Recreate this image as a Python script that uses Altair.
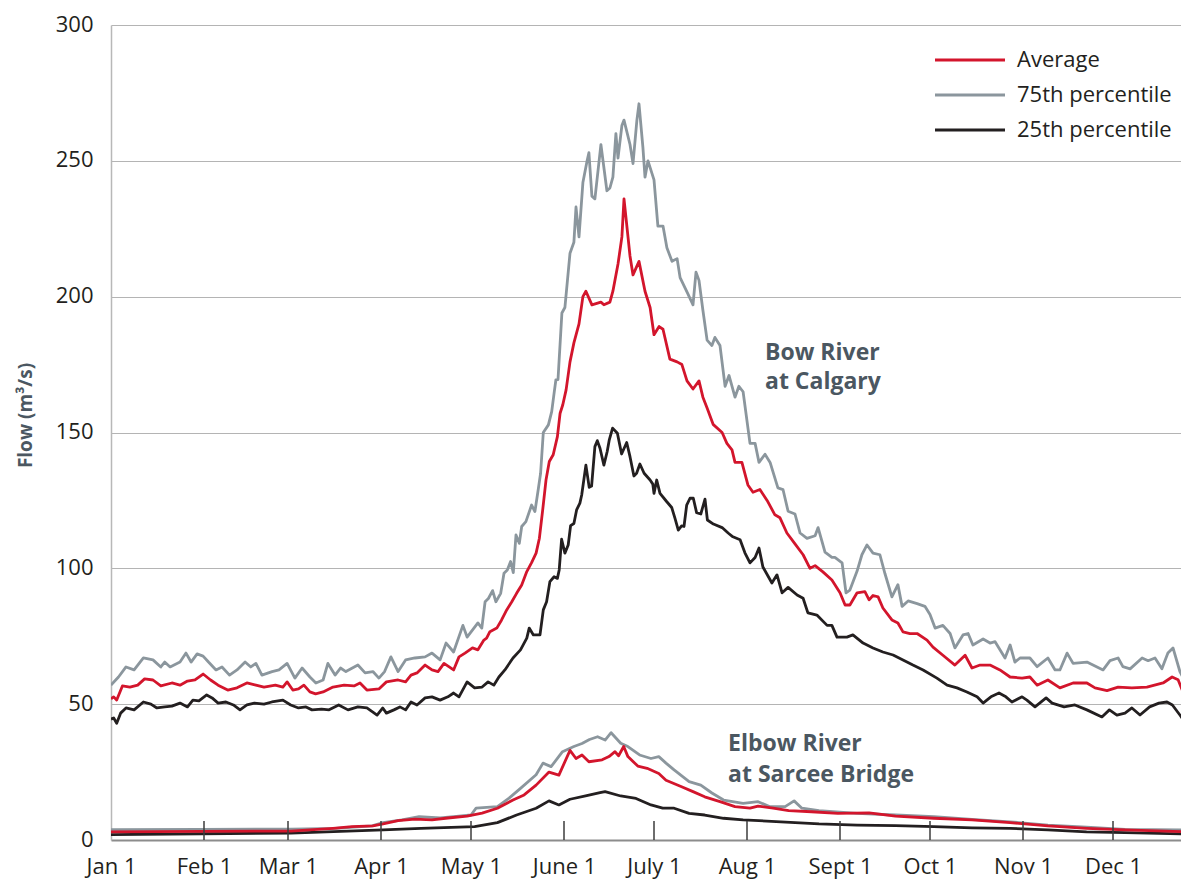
import json
import altair as alt
import pandas as pd

# ---- axis values / labels ----
month_days = [0, 31, 59, 90, 120, 151, 181, 212, 243, 273, 304, 334]
month_labels = ["Jan 1", "Feb 1", "Mar 1", "Apr 1", "May 1", "June 1",
                "July 1", "Aug 1", "Sept 1", "Oct 1", "Nov 1", "Dec 1"]
flow_ticks = [0, 50, 100, 150, 200, 250, 300]

series_names = ["Average", "75th percentile", "25th percentile"]
series_colors = ["#d3152c", "#8b969d", "#231f20"]

# ---- Bow River at Calgary: [day of year, flow m3/s] ----
bow_p75 = [[0, 57.0], [2.5, 60.0], [5.0, 63.7], [7.7, 62.6], [10.8, 67.0], [14.0, 66.3], [16.6, 63.7],
           [17.9, 65.5], [19.7, 63.7], [23.0, 65.5], [25.0, 68.8], [26.7, 65.5], [28.7, 68.5], [30.7, 67.7],
           [32.5, 65.5], [35.0, 62.6], [37.0, 63.7], [39.5, 60.7], [42.0, 62.6], [44.7, 65.5], [46.6, 63.7],
           [48.3, 65.0], [50.3, 60.7], [53.7, 62.0], [56.0, 62.6], [58.7, 65.0], [61.3, 59.6], [63.7, 63.3],
           [66.3, 60.0], [68.3, 57.8], [70.7, 58.9], [72.3, 65.0], [74.7, 60.7], [76.5, 63.3], [78.3, 62.0],
           [82.3, 64.4], [84.7, 61.5], [87.3, 62.0], [89.3, 59.6], [91.2, 62.0], [93.3, 67.4], [95.7, 62.0],
           [98.2, 66.3], [101.3, 67.0], [104.7, 67.4], [107.0, 68.8], [109.7, 66.3], [111.7, 72.5],
           [114.2, 69.2], [117.3, 79.0], [118.7, 74.7], [122.3, 79.9], [123.6, 78.0], [124.7, 87.7],
           [125.8, 88.9], [127.2, 91.8], [128.3, 87.7], [129.9, 90.8], [131.0, 98.2], [132.1, 99.4],
           [133.2, 102.5], [134.1, 98.4], [135.0, 112.3], [136.1, 109.2], [136.9, 115.4], [138.3, 117.2],
           [140.2, 123.3], [141.3, 120.9], [142.4, 128.9], [143.2, 135.0], [144.1, 150.0], [145.8, 152.8],
           [146.9, 157.7], [147.7, 164.5], [148.3, 169.4], [149.0, 169.5], [150.3, 194.0], [151.3, 196.0],
           [153.0, 216.0], [154.3, 220.0], [155.0, 233.0], [156.0, 222.0], [157.3, 242.0], [158.7, 250.0],
           [159.3, 253.0], [160.3, 237.0], [161.3, 236.0], [163.3, 256.0], [165.3, 239.0], [166.3, 240.0],
           [167.3, 244.0], [168.3, 260.0], [169.0, 251.0], [170.3, 263.0], [171.0, 265.0], [173.0, 256.0],
           [174.0, 249.0], [175.3, 265.0], [176.0, 271.0], [177.3, 255.0], [178.0, 244.0], [179.0, 250.0],
           [181.0, 243.0], [182.3, 226.0], [184.0, 226.0], [185.3, 218.0], [187.0, 213.0], [188.7, 214.0],
           [189.7, 207.0], [192.3, 201.0], [194.0, 197.0], [195.0, 209.0], [196.0, 206.0], [197.3, 195.0],
           [198.7, 184.0], [200.3, 182.0], [201.3, 185.0], [203.0, 182.0], [204.7, 167.0], [206.0, 171.0],
           [208.0, 163.0], [209.3, 167.0], [210.7, 165.0], [213.0, 146.0], [214.7, 146.0], [216.0, 139.0],
           [218.0, 142.0], [219.7, 139.0], [222.3, 129.6], [224.0, 129.0], [225.7, 121.0], [228.0, 120.0],
           [229.7, 113.0], [232.0, 111.0], [234.7, 112.0], [235.7, 115.0], [238.0, 106.0], [240.3, 104.0],
           [241.3, 104.0], [243.7, 102.0], [245.0, 91.0], [246.3, 92.0], [248.7, 99.0], [250.3, 105.0],
           [252.0, 108.6], [254.0, 105.6], [256.3, 105.0], [258.0, 98.0], [260.3, 89.5], [262.3, 94.0],
           [263.7, 86.0], [265.7, 88.0], [268.7, 87.0], [271.3, 86.0], [273.0, 83.0], [274.7, 78.0],
           [277.3, 79.0], [279.7, 76.0], [281.3, 70.7], [284.0, 75.5], [285.7, 76.0], [287.3, 71.8],
           [290.7, 74.0], [293.0, 72.5], [294.7, 73.0], [298.0, 67.0], [299.7, 71.8], [301.3, 65.5],
           [303.0, 67.0], [306.3, 67.0], [308.7, 63.8], [312.3, 67.0], [314.7, 62.6], [316.3, 62.6],
           [318.7, 68.8], [320.7, 65.0], [325.3, 65.5], [330.7, 62.6], [333.0, 66.0], [335.7, 67.0],
           [337.3, 63.8], [339.7, 63.0], [343.7, 67.0], [345.7, 66.0], [348.0, 67.0], [350.3, 63.0],
           [352.3, 68.8], [354.0, 70.7], [356.3, 62.0], [359.0, 56.3]]

bow_avg = [[0, 52.0], [0.9, 52.7], [1.9, 51.5], [3.8, 56.7], [6.3, 56.3], [8.9, 57.0], [11.2, 59.3],
           [14.0, 58.9], [16.6, 56.7], [20.3, 57.8], [23.0, 57.0], [25.5, 58.5], [28.0, 58.9], [30.7, 61.1],
           [33.2, 58.9], [35.7, 57.0], [38.9, 55.2], [42.0, 56.0], [45.3, 57.8], [48.3, 57.0], [51.0, 56.3],
           [54.8, 57.0], [57.3, 56.3], [58.7, 58.2], [60.6, 55.2], [62.5, 55.6], [64.3, 57.0], [66.3, 54.5],
           [68.2, 53.8], [70.7, 54.5], [74.0, 56.3], [77.7, 57.0], [81.0, 56.7], [83.0, 57.8], [85.3, 55.2],
           [89.3, 55.6], [91.8, 58.2], [95.7, 58.9], [98.2, 58.2], [100.0, 60.7], [102.0, 61.5], [104.7, 64.4],
           [107.0, 62.6], [109.0, 62.0], [111.0, 65.0], [114.2, 62.6], [116.0, 67.4], [118.0, 68.8],
           [120.5, 70.7], [122.3, 70.0], [124.3, 73.6], [125.2, 74.3], [126.3, 76.7], [128.6, 78.0],
           [130.2, 81.0], [131.9, 84.7], [133.6, 87.7], [135.2, 90.8], [136.9, 93.9], [138.6, 98.8],
           [140.2, 102.1], [141.7, 105.6], [142.8, 111.1], [143.9, 121.5], [145.0, 132.5], [146.1, 139.3],
           [147.4, 141.8], [148.8, 148.5], [149.7, 157.1], [150.6, 160.2], [151.7, 165.7], [153.0, 176.0],
           [154.3, 183.0], [156.0, 190.0], [157.3, 200.0], [158.3, 202.0], [160.3, 197.0], [163.3, 198.0],
           [164.3, 197.0], [166.3, 198.0], [167.3, 202.0], [169.0, 212.0], [170.3, 222.0], [171.0, 236.0],
           [173.0, 215.0], [174.0, 208.0], [176.0, 213.0], [178.0, 202.0], [179.7, 196.0], [181.0, 186.0],
           [182.7, 189.0], [184.0, 188.0], [186.3, 177.0], [188.7, 176.0], [190.3, 175.0], [192.0, 169.0],
           [194.0, 166.0], [196.0, 169.0], [197.3, 163.0], [198.7, 159.0], [200.7, 153.0], [203.7, 150.0],
           [205.3, 146.0], [207.0, 143.6], [208.0, 139.0], [210.3, 139.0], [212.3, 130.7], [214.0, 128.0],
           [216.3, 129.0], [218.7, 125.0], [221.3, 119.7], [223.0, 118.6], [225.3, 113.0], [228.0, 109.0],
           [230.7, 105.0], [233.0, 100.0], [234.7, 101.0], [237.3, 98.7], [240.3, 95.7], [243.0, 91.0],
           [244.7, 86.5], [246.3, 86.5], [248.7, 91.0], [251.3, 91.4], [252.7, 88.4], [254.0, 90.0],
           [255.7, 89.5], [257.3, 85.4], [260.3, 81.0], [262.3, 79.9], [264.0, 76.6], [266.3, 76.0],
           [268.7, 76.0], [272.0, 73.6], [274.0, 71.0], [277.3, 68.0], [281.3, 64.4], [284.7, 68.0],
           [287.0, 63.3], [289.7, 64.4], [293.0, 64.4], [296.3, 62.6], [299.7, 60.0], [303.7, 59.6],
           [306.3, 60.0], [308.7, 57.0], [312.3, 58.9], [316.3, 56.0], [320.7, 57.8], [325.3, 57.8],
           [328.0, 56.0], [332.0, 55.0], [335.7, 56.3], [340.3, 56.0], [345.3, 56.3], [350.7, 57.8],
           [353.7, 60.0], [355.7, 59.0], [358.0, 52.7], [359.0, 51.5]]

bow_p25 = [[0, 44.5], [0.9, 44.9], [1.9, 43.0], [3.2, 46.7], [5.0, 48.6], [7.7, 47.9], [10.8, 50.8],
           [13.3, 50.0], [15.3, 48.6], [17.9, 49.0], [20.3, 49.3], [23.0, 50.4], [25.5, 49.0], [27.3, 51.5],
           [29.3, 51.2], [31.9, 53.4], [33.7, 52.3], [35.7, 50.4], [38.3, 50.8], [40.8, 49.7], [43.0, 47.9],
           [45.3, 49.7], [47.8, 50.4], [51.0, 50.0], [53.6, 50.8], [57.3, 51.5], [59.9, 49.7], [62.5, 48.6],
           [65.0, 49.0], [67.0, 47.9], [70.2, 48.2], [72.7, 47.9], [75.9, 49.7], [79.0, 47.9], [82.3, 49.0],
           [85.3, 48.6], [88.7, 46.0], [90.6, 48.6], [91.8, 46.7], [94.3, 47.9], [96.3, 49.0], [98.2, 47.9],
           [100.0, 50.8], [102.0, 49.7], [104.7, 52.3], [107.0, 52.7], [109.7, 51.5], [112.3, 52.7],
           [114.2, 54.1], [116.0, 52.7], [118.7, 58.2], [121.2, 56.0], [123.7, 56.3], [125.7, 58.2],
           [127.6, 57.0], [129.3, 60.0], [131.3, 62.6], [134.0, 67.0], [136.5, 70.0], [138.6, 74.3],
           [139.4, 78.0], [140.8, 75.5], [143.0, 75.5], [144.1, 84.7], [145.2, 87.7], [146.3, 95.1],
           [147.7, 96.9], [148.8, 96.3], [149.4, 99.4], [150.2, 110.7], [151.3, 105.6], [152.4, 108.6],
           [153.2, 115.7], [154.3, 116.5], [155.2, 121.5], [156.3, 124.0], [156.9, 127.0], [158.3, 138.0],
           [159.4, 129.8], [160.2, 130.3], [161.3, 144.8], [162.1, 147.0], [163.0, 144.2], [164.3, 138.0],
           [165.4, 143.0], [166.1, 147.3], [167.2, 151.6], [168.8, 149.7], [170.2, 142.1], [171.9, 146.3],
           [173.0, 141.1], [174.3, 134.0], [175.2, 135.0], [176.3, 138.4], [177.7, 135.0], [179.7, 132.5],
           [180.6, 131.0], [181.0, 127.6], [181.9, 132.5], [183.0, 127.6], [185.2, 124.6], [186.9, 122.4],
           [188.0, 118.4], [189.1, 114.1], [190.2, 115.6], [191.0, 115.4], [191.9, 123.3], [193.0, 125.8],
           [194.1, 125.8], [195.2, 120.5], [196.6, 120.0], [198.0, 125.5], [198.8, 117.8], [200.8, 116.3],
           [203.7, 115.0], [205.7, 113.0], [207.3, 111.6], [209.7, 110.5], [211.3, 105.7], [213.0, 102.0],
           [214.7, 104.0], [216.0, 107.5], [217.3, 100.5], [220.3, 94.6], [222.0, 97.6], [223.7, 91.0],
           [225.7, 93.0], [228.7, 90.2], [230.7, 89.0], [232.3, 83.6], [235.3, 82.8], [238.7, 79.0],
           [240.3, 79.0], [242.0, 74.7], [245.3, 74.7], [247.3, 75.5], [250.7, 72.5], [254.0, 70.7],
           [257.3, 69.2], [260.7, 68.1], [264.0, 66.3], [267.3, 64.4], [270.7, 62.6], [275.3, 59.6],
           [278.7, 57.0], [282.0, 56.0], [285.3, 54.5], [288.7, 52.7], [290.7, 50.4], [293.3, 52.7],
           [296.0, 54.1], [298.3, 52.7], [300.3, 50.8], [303.7, 52.7], [305.3, 51.5], [308.0, 49.0],
           [311.7, 52.3], [313.7, 50.4], [317.7, 49.0], [321.3, 49.7], [325.3, 47.9], [330.3, 45.3],
           [332.8, 47.9], [335.3, 46.0], [338.0, 46.7], [340.3, 48.6], [343.0, 46.0], [346.2, 49.0],
           [349.3, 50.4], [352.0, 50.8], [353.8, 49.7], [356.3, 46.0], [358.3, 43.0], [359.0, 43.0]]

# ---- Elbow River at Sarcee Bridge ----
elbow_p75 = [[0, 3.8], [30, 3.9], [60, 4.0], [75, 4.3], [87, 5.2], [90.7, 6.4], [97, 7.4], [102.7, 8.6],
             [109.7, 8.1], [116, 8.8], [120, 9.2], [121.7, 11.7], [128.8, 12.3], [132.7, 15.4], [136.5, 19.0],
             [141.7, 24.0], [144, 28.3], [146.7, 27.0], [150.5, 32.5], [154.3, 34.4], [157, 35.5],
             [159.5, 37.0], [162.2, 38.0], [164.7, 36.8], [166.7, 39.5], [169.9, 35.6], [172.3, 34.4],
             [176.2, 31.3], [180, 30.0], [182.6, 30.7], [185, 28.3], [187.7, 25.8], [192.7, 21.5],
             [196.6, 20.2], [200.3, 17.3], [204.2, 14.7], [210.7, 13.5], [215.7, 14.1], [219.5, 12.3],
             [224.7, 12.3], [227.7, 14.4], [230.3, 11.7], [236, 10.8], [248.7, 9.8], [261.5, 9.2],
             [274.3, 8.6], [287, 7.6], [299.7, 6.7], [312.3, 5.5], [325.2, 4.7], [338, 3.9], [359, 3.7]]

elbow_avg = [[0, 3.0], [30, 3.2], [60, 3.3], [74, 4.3], [80.3, 4.9], [87.3, 5.2], [90.7, 5.9], [95.7, 7.1],
             [101.3, 7.7], [107, 7.4], [112.3, 8.1], [118.7, 8.8], [123.7, 9.9], [128.8, 11.7], [134, 14.7],
             [137.7, 16.6], [141.7, 20.2], [146, 25.0], [149.3, 23.9], [153, 33.0], [155, 30.0], [157, 31.3],
             [159.3, 28.8], [163.7, 29.5], [166, 30.7], [168, 32.5], [169.2, 31.0], [170.9, 34.4],
             [172.3, 30.7], [175.6, 27.2], [178.7, 26.4], [182.6, 24.5], [185, 22.0], [190.2, 19.6],
             [194, 17.8], [197.9, 15.9], [203, 14.1], [208, 12.3], [213, 11.7], [215.7, 12.5], [220.7, 11.7],
             [225.9, 10.8], [233.5, 10.4], [242.3, 9.8], [252.7, 10.0], [261.5, 8.8], [274.3, 8.0],
             [287, 7.4], [299.7, 6.4], [312.3, 5.2], [325.2, 4.3], [338, 3.7], [359, 3.0]]

elbow_p25 = [[0, 2.0], [30, 2.3], [60, 2.5], [90.7, 3.7], [103.3, 4.3], [121.2, 4.9], [128.8, 6.4],
             [135.2, 9.2], [141.7, 11.7], [146, 14.4], [149.3, 12.9], [153, 15.0], [158.2, 16.2], [163, 17.4],
             [164.7, 17.8], [169.9, 16.2], [175, 15.3], [180, 12.9], [183.9, 11.7], [187.7, 11.7],
             [192.7, 9.8], [197.9, 9.2], [204.2, 8.0], [210.7, 7.4], [223.3, 6.7], [236, 5.9], [248.7, 5.5],
             [261.5, 5.3], [274.3, 4.9], [287, 4.5], [299.7, 4.3], [312.3, 3.7], [325.2, 3.0], [338, 2.7],
             [359, 2.2]]

# ---- annotations: text, day, flow (baseline) ----
ann_text = ["Bow River", "at Calgary", "Elbow River", "at Sarcee Bridge"]
ann_day = [218.0, 218.0, 205.7, 205.7]
ann_flow = [176.7, 166.0, 32.8, 21.4]

rows = []
for river, stat, pts in [("Bow", "75th percentile", bow_p75), ("Bow", "25th percentile", bow_p25),
                         ("Bow", "Average", bow_avg), ("Elbow", "75th percentile", elbow_p75),
                         ("Elbow", "25th percentile", elbow_p25), ("Elbow", "Average", elbow_avg)]:
    for d, f in pts:
        rows.append({"river": river, "stat": stat, "day": d, "flow": f})
df = pd.DataFrame(rows)

ann_df = pd.DataFrame({"text": ann_text, "day": ann_day, "flow": ann_flow})
tick_df = pd.DataFrame({"day": month_days[1:]})
legend_df = pd.DataFrame({"stat": series_names})

W, H = 1070, 815
X_END = W / 3.0  # 3 px per day, same as the reference
FONT = "Open Sans"
TXT = "#231f20"
SLATE = "#4b5761"

label_expr = f"{json.dumps(month_labels)}[indexof({json.dumps(month_days)}, datum.value)]"

x_enc = alt.X("day:Q", scale=alt.Scale(domain=[0, X_END], nice=False, zero=False),
              axis=alt.Axis(values=month_days, labelExpr=label_expr, title=None, grid=False,
                            ticks=False, domainColor="#8c8c8c", domainWidth=2,
                            labelFont=FONT, labelFontSize=22, labelColor=TXT, labelPadding=16,
                            labelFlush=False, labelOverlap=False))
y_enc = alt.Y("flow:Q", scale=alt.Scale(domain=[0, 300], nice=False),
              axis=alt.Axis(values=flow_ticks, title="Flow (m³/s)", grid=True, gridColor="#b4b4b4",
                            gridWidth=1, ticks=False, domainColor="#b8b8b8", domainWidth=1.5,
                            labelFont=FONT, labelFontSize=22, labelColor=TXT, labelPadding=18,
                            labelOffset=-1,
                            titleFont=FONT, titleFontSize=19, titleFontWeight="bold", titleColor=SLATE,
                            titleX=-86, titleY=390, titleAngle=-90, titleAlign="center",
                            titleBaseline="middle"))
color_enc = alt.Color("stat:N", scale=alt.Scale(domain=series_names, range=series_colors), legend=None)

base = alt.Chart(df).mark_line(strokeWidth=2.8, strokeJoin="round", clip=True).encode(
    x=x_enc, y=y_enc, color=color_enc, detail="river:N")

lines = alt.layer(
    base.transform_filter(alt.datum.stat == "75th percentile"),
    base.transform_filter(alt.datum.stat == "25th percentile"),
    base.transform_filter(alt.datum.stat == "Average"),
)

ticks = alt.Chart(tick_df).mark_rule(color="#3c3c3c", strokeWidth=1.5).encode(
    x=alt.X("day:Q"), y=alt.value(H), y2=alt.value(H - 19))

ann = alt.Chart(ann_df).mark_text(align="left", baseline="alphabetic", font=FONT, fontWeight="bold",
                                  fontSize=23, color=SLATE).encode(
    x=alt.X("day:Q"), y=alt.Y("flow:Q"), text="text:N")

main = alt.layer(lines, ticks, ann)

leg_scale = alt.Scale(type="point", domain=series_names, range=[35, 105], padding=0)
leg_rule = alt.Chart(legend_df).mark_rule(strokeWidth=3).encode(
    x=alt.value(824), x2=alt.value(894),
    y=alt.Y("stat:N", scale=leg_scale, axis=None),
    color=color_enc)
leg_text = alt.Chart(legend_df).mark_text(align="left", baseline="middle", font=FONT, fontSize=22,
                                          color=TXT).encode(
    x=alt.value(906),
    y=alt.Y("stat:N", scale=leg_scale, axis=None),
    text="stat:N")
legend = alt.layer(leg_rule, leg_text)

chart = alt.layer(main, legend).resolve_scale(y="independent").properties(
    width=W, height=H,
    padding={"left": 103, "top": 17, "right": 0, "bottom": 44},
    autosize=alt.AutoSizeParams(type="none"),
).configure_view(stroke=None)

chart.save("out.html", embed_options={"renderer": "svg", "actions": False})
